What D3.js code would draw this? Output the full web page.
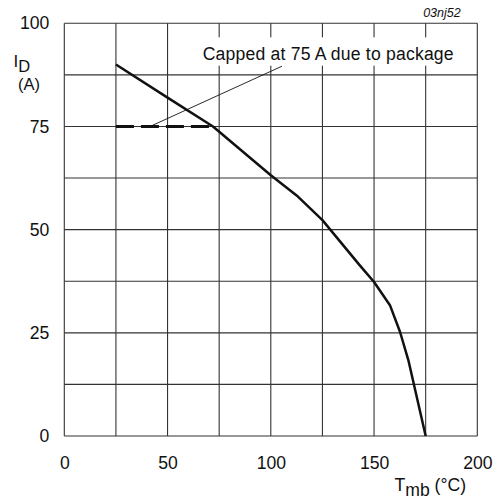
<!DOCTYPE html>
<html>
<head>
<meta charset="utf-8">
<script src="https://cdn.jsdelivr.net/npm/d3@7"></script>
<style>
  html, body { margin: 0; padding: 0; background: #fff; }
  svg { display: block; font-family: "Liberation Sans", Arial, sans-serif; }
</style>
</head>
<body>
<svg id="chart" width="501" height="502"></svg>
<script>
// ---- data ----
const tempC = [25, 50, 72, 100, 112.5, 125, 143, 150, 157.7, 162.6, 166.6, 175];
const currentA = [90, 82, 75, 63.2, 58.3, 52.3, 41.4, 37.3, 31.7, 25.2, 18.4, 0];
const capTemp = [25, 72];
const capCurrent = [75, 75];
const xTickValues = [0, 50, 100, 150, 200];
const yTickValues = [0, 25, 50, 75, 100];
const xGridValues = [0, 25, 50, 75, 100, 125, 150, 175, 200];
const yGridValues = [0, 12.5, 25, 37.5, 50, 62.5, 75, 87.5, 100];
const annotationText = "Capped at 75 A due to package";
const leaderFrom = [41.5, 75];
const leaderTo = [105.4, 89.6];
const codeLabel = "03nj52";

// ---- layout ----
const svg = d3.select("#chart");
const x = d3.scaleLinear().domain([0, 200]).range([64.3, 477.3]);
const y = d3.scaleLinear().domain([0, 100]).range([436, 23.3]);
const fs = 17.6;
const ink = "#111";

// grid
const g = svg.append("g");
g.selectAll("line.vg").data(xGridValues).enter().append("line")
  .attr("x1", d => x(d)).attr("x2", d => x(d))
  .attr("y1", y(0)).attr("y2", y(100))
  .attr("stroke", "#333").attr("stroke-width", 1.1);
g.selectAll("line.hg").data(yGridValues).enter().append("line")
  .attr("x1", x(0)).attr("x2", x(200))
  .attr("y1", d => y(d)).attr("y2", d => y(d))
  .attr("stroke", "#333").attr("stroke-width", 1.1);

// axes (labels only)
const xAxis = d3.axisBottom(x).tickValues(xTickValues).tickSize(0).tickPadding(21);
const xa = svg.append("g").attr("transform", `translate(0,${y(0)})`).call(xAxis);
xa.select(".domain").remove();
xa.selectAll("text").attr("font-size", fs).attr("fill", ink).attr("font-family", "Liberation Sans, Arial, sans-serif");

const yAxis = d3.axisLeft(y).tickValues(yTickValues).tickSize(0).tickPadding(15);
const ya = svg.append("g").attr("transform", `translate(${x(0)},0)`).call(yAxis);
ya.select(".domain").remove();
ya.selectAll("text").attr("font-size", fs).attr("fill", ink).attr("font-family", "Liberation Sans, Arial, sans-serif");

// curve
const line = d3.line().x(d => x(d[0])).y(d => y(d[1]));
svg.append("path")
  .datum(tempC.map((t, i) => [t, currentA[i]]))
  .attr("d", line)
  .attr("fill", "none").attr("stroke", ink).attr("stroke-width", 2.5)
  .attr("stroke-linejoin", "round");

// capped dashed line
svg.append("path")
  .datum(capTemp.map((t, i) => [t, capCurrent[i]]))
  .attr("d", line)
  .attr("fill", "none").attr("stroke", ink).attr("stroke-width", 3)
  .attr("stroke-dasharray", "18,7");

// leader
svg.append("line")
  .attr("x1", x(leaderFrom[0])).attr("y1", y(leaderFrom[1]))
  .attr("x2", x(leaderTo[0])).attr("y2", y(leaderTo[1]))
  .attr("stroke", ink).attr("stroke-width", 0.9);

// annotation text with white background
const annBg = svg.append("rect").attr("fill", "#fff");
const ann = svg.append("text")
  .attr("x", x(67)).attr("y", y(91.2))
  .attr("font-size", fs).attr("fill", ink)
  .attr("textLength", 251).attr("lengthAdjust", "spacing")
  .text(annotationText);
const bb = ann.node().getBBox();
annBg.attr("x", bb.x - 3).attr("y", 37.3).attr("width", bb.width + 6).attr("height", 28.4);

// code label
svg.append("text")
  .attr("x", 460.7).attr("y", 17)
  .attr("text-anchor", "end")
  .attr("font-size", 12.5).attr("font-style", "italic").attr("fill", ink)
  .text(codeLabel);

// y axis title
const yt = svg.append("text").attr("x", 13.5).attr("y", 66.5).attr("font-size", 17).attr("fill", ink);
yt.append("tspan").text("I");
yt.append("tspan").attr("dy", 5.5).attr("font-size", 16.5).text("D");
svg.append("text").attr("x", 18).attr("y", 90.3).attr("font-size", 16.5).attr("fill", ink).text("(A)");

// x axis title
const xt = svg.append("text").attr("x", 394.5).attr("y", 490.7).attr("font-size", fs).attr("fill", ink);
xt.append("tspan").text("T");
xt.append("tspan").attr("dy", 5).text("mb");
xt.append("tspan").attr("dy", -5).text(" (°C)");
</script>
</body>
</html>
